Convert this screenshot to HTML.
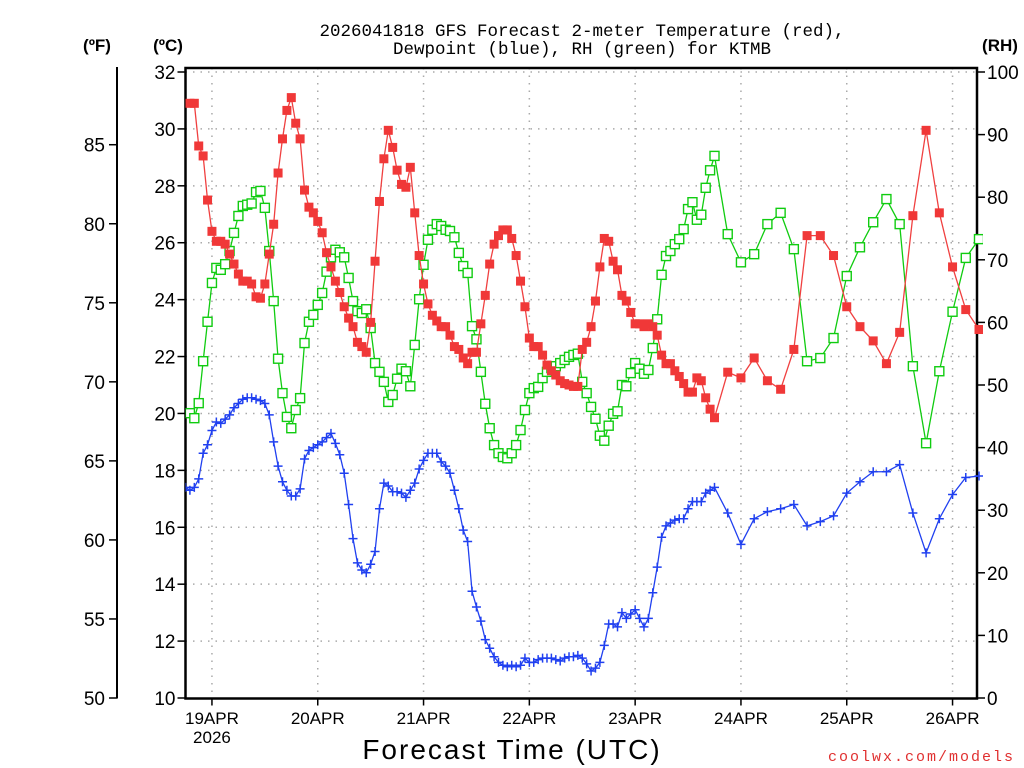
<!DOCTYPE html>
<html><head><meta charset="utf-8"><style>
html,body{margin:0;padding:0;background:#fff;}
svg{display:block;font-family:"Liberation Sans",sans-serif;}
</style></head><body>
<svg id="chart" width="1024" height="768" viewBox="0 0 1024 768" xmlns="http://www.w3.org/2000/svg">
<rect width="1024" height="768" fill="#fff"/>
<g font-family="Liberation Mono, monospace" font-size="17.5" fill="#000" text-anchor="middle">
<text x="582" y="36">2026041818 GFS Forecast 2-meter Temperature (red),</text>
<text x="582" y="54">Dewpoint (blue), RH (green) for KTMB</text>
</g>
<text x="97" y="51" font-size="17" font-weight="bold" text-anchor="middle">(ºF)</text>
<text x="168" y="51" font-size="17" font-weight="bold" text-anchor="middle">(ºC)</text>
<text x="1000" y="51" font-size="17" font-weight="bold" text-anchor="middle">(RH)</text>
<g id="grid"></g>
<g id="axes"></g>
<g id="series"></g>
<text x="512" y="759" font-size="28" letter-spacing="2" text-anchor="middle">Forecast Time (UTC)</text>
<text x="1015" y="761" font-family="Liberation Mono, monospace" font-size="15" letter-spacing="2" fill="#e03030" text-anchor="end">coolwx.com/models</text>
</svg>
<script>
// ---- data ----
const dayLabels = ["19APR","20APR","21APR","22APR","23APR","24APR","25APR","26APR"];
const celsiusTicks = [10,12,14,16,18,20,22,24,26,28,30,32];
const fahrenheitTicks = [50,55,60,65,70,75,80,85];
const rhTicks = [0,10,20,30,40,50,60,70,80,90,100];
// hours from 2026-04-18 18Z
const tempStartHour = 1;
const tempHourly = [30.9,30.9,29.4,29.05,27.5,26.4,26.05,26.05,25.95,25.6,25.25,24.9,24.65,24.65,24.55,24.1,24.05,24.55,25.6,26.65,28.45,29.65,30.65,31.1,30.2,29.65,27.85,27.25,27.05,26.75,26.35,25.65,25.15,24.65,24.25,23.75,23.35,23.05,22.5,22.35,22.15,23.2,25.35,27.45,28.95,29.95,29.35,28.55,28.05,27.95,28.65,27.05,25.55,24.55,23.85,23.45,23.25,23.05,23.05,22.75,22.35,22.25,21.95,21.75,22.15,22.15,23.15,24.15,25.25,25.95,26.25,26.45,26.45,26.15,25.55,24.65,23.75,22.65,22.35,22.35,22.05,21.7,21.5,21.35,21.15,21.05,21.0,20.95,20.95,22.25,22.5,23.05,23.95,25.15,26.15,26.05,25.35,25.05,24.15,23.95,23.55,23.15,23.15,23.05,23.15,23.05,22.75,22.05,21.75,21.75,21.5,21.3,21.05,20.75,20.75,21.25,21.15,20.55,20.15,19.85];
const temp3h = [21.45,21.25,21.95,21.15,20.85,22.25,26.25,26.25,25.55,23.75,23.05,22.55,21.75,22.85,26.95,29.95,27.05,25.15,23.65,22.95];
const rhStartHour = 1;
const rhHourly = [45.5,44.7,47.1,53.8,60.1,66.3,68.7,68.4,69.3,71.4,74.3,77.0,78.6,78.8,79.0,80.8,81.0,78.3,71.4,63.4,54.2,48.7,44.9,43.1,46.0,47.9,56.7,60.1,61.2,62.8,64.7,68.1,70.4,71.6,71.2,70.4,67.1,63.4,61.8,61.5,62.1,59.1,53.5,52.1,50.5,47.3,48.4,51.0,52.6,52.2,49.8,56.4,63.7,69.2,73.2,74.8,75.7,75.4,74.8,74.6,73.6,71.1,69.0,67.9,59.4,57.3,52.1,47.0,43.1,40.4,39.1,38.5,38.3,39.1,40.4,42.8,46.0,48.7,49.5,49.7,51.1,52.1,52.7,53.0,53.5,54.0,54.5,54.8,55.0,50.5,48.7,46.5,44.6,41.9,41.1,43.5,45.4,45.8,50.0,49.8,51.9,53.5,52.6,51.8,52.4,55.9,60.5,67.6,70.6,71.4,72.5,73.3,74.9,78.1,79.2,76.4,77.2,81.5,84.3,86.6];
const rh3h = [74.1,69.6,70.9,75.7,77.5,71.7,53.8,54.3,57.5,67.4,72.0,76.0,79.7,75.7,53.0,40.7,52.2,61.7,70.3,73.3];
const dewStartHour = 0;
const dewHourly = [17.4,17.3,17.4,17.7,18.6,18.9,19.4,19.7,19.65,19.8,19.95,20.2,20.35,20.5,20.55,20.55,20.5,20.45,20.35,19.95,19.0,18.15,17.6,17.3,17.1,17.1,17.35,18.4,18.7,18.8,18.9,19.0,19.15,19.3,18.95,18.55,17.9,16.8,15.6,14.75,14.5,14.4,14.7,15.15,16.65,17.55,17.45,17.25,17.25,17.2,17.05,17.3,17.55,18.05,18.35,18.6,18.6,18.6,18.3,18.15,17.9,17.3,16.65,15.9,15.5,13.75,13.2,12.7,12.05,11.75,11.45,11.25,11.15,11.1,11.15,11.1,11.15,11.4,11.25,11.25,11.35,11.4,11.4,11.4,11.35,11.3,11.4,11.45,11.45,11.5,11.4,11.2,10.95,11.05,11.25,11.85,12.6,12.6,12.5,13.0,12.8,12.95,13.1,12.8,12.5,12.8,13.7,14.6,15.65,16.05,16.15,16.25,16.3,16.3,16.65,16.9,16.9,16.9,17.2,17.3,17.4];
const dew3h = [16.5,15.4,16.3,16.55,16.65,16.8,16.05,16.2,16.4,17.2,17.6,17.95,17.95,18.2,16.5,15.1,16.3,17.15,17.75,17.8];
const threeHourStart = 123;

// ---- geometry ----
const L=185.5, R=977, T=68, B=698.5;
const hourPx = 105.8/24;
const xH = h => L + h*hourPx;
const yC = c => 698 - (c-10)*(626/22);
const yRH = r => 698 - r*6.26;
const yF = f => yC((f-32)*5/9);
const NS="http://www.w3.org/2000/svg";
function mk(tag, attrs, parent){const e=document.createElementNS(NS,tag);for(const k in attrs)e.setAttribute(k,attrs[k]);parent.appendChild(e);return e;}
const grid=document.getElementById('grid'), axes=document.getElementById('axes'), series=document.getElementById('series');

celsiusTicks.forEach(c=>{
  if(c===10) return;
  const g=mk('line',{x1:L,x2:R,y1:yC(c),y2:yC(c),stroke:'#aaa','stroke-width':1.5,'stroke-dasharray':'1.5 6'},grid);
  
  
});
dayLabels.forEach((d,i)=>{
  const x=xH(6+24*i);
  const g=mk('line',{x1:x,x2:x,y1:T,y2:B,stroke:'#aaa','stroke-width':1.5,'stroke-dasharray':'1.5 6'},grid);
  
  
});

const fr=mk('rect',{x:L,y:T,width:R-L,height:B-T,fill:'none',stroke:'#000','stroke-width':2.5},axes);



celsiusTicks.forEach(c=>{
  const y=yC(c);
  mk('line',{x1:L-8,x2:L,y1:y,y2:y,stroke:'#000','stroke-width':1.5},axes);
  const t=mk('text',{x:L-10,y:y+7,'font-size':19,'text-anchor':'end',fill:'#000'},axes);
  t.textContent=c;
  
  
});
const fl=mk('line',{x1:117,x2:117,y1:67,y2:698.5,stroke:'#000','stroke-width':2},axes);


fahrenheitTicks.forEach(f=>{
  const y=yF(f);
  mk('line',{x1:109,x2:117,y1:y,y2:y,stroke:'#000','stroke-width':1.5},axes);
  const t=mk('text',{x:105,y:y+7,'font-size':19,'text-anchor':'end',fill:'#000'},axes);
  t.textContent=f;
  
  
});
rhTicks.forEach(r=>{
  const y=yRH(r);
  mk('line',{x1:R,x2:R+8,y1:y,y2:y,stroke:'#000','stroke-width':1.5},axes);
  const t=mk('text',{x:R+10,y:y+7,'font-size':19,'text-anchor':'start',fill:'#000'},axes);
  t.textContent=r;
  
  
});
dayLabels.forEach((d,i)=>{
  const x=xH(6+24*i);
  mk('line',{x1:x,x2:x,y1:B,y2:B+7,stroke:'#000','stroke-width':1.5},axes);
  const t=mk('text',{x:x,y:724,'font-size':17,'text-anchor':'middle',fill:'#000'},axes);
  t.textContent=d;
  
  
});
const yr=mk('text',{x:xH(6),y:743,'font-size':17,'text-anchor':'middle',fill:'#000'},axes);
yr.textContent='2026';



function pts(start, hourly, three, yf){
  const p=[];
  hourly.forEach((v,i)=>p.push([xH(start+i), yf(v)]));
  three.forEach((v,i)=>p.push([xH(threeHourStart+3*i), yf(v)]));
  return p;
}
function clipG(){return mk('g',{'clip-path':'url(#plotclip)'},series);}
const defs=mk('defs',{},document.getElementById('chart'));
const cp=mk('clipPath',{id:'plotclip'},defs);
mk('rect',{x:L,y:T-6,width:R-L+6,height:B-T+12},cp);

const rhP=pts(rhStartHour,rhHourly,rh3h,yRH);
const gG=clipG();
const rl=mk('polyline',{points:rhP.map(p=>p.join(',')).join(' '),fill:'none',stroke:'#10cc10','stroke-width':1.3},gG);


rhP.forEach(p=>{
  const m=mk('rect',{x:p[0]-4.5,y:p[1]-4.5,width:9,height:9,fill:'#fff',stroke:'#10cc10','stroke-width':1.4},gG);
  
  
});
const tP=pts(tempStartHour,tempHourly,temp3h,yC);
const rG=clipG();
const tl=mk('polyline',{points:tP.map(p=>p.join(',')).join(' '),fill:'none',stroke:'#f04040','stroke-width':1.3},rG);


tP.forEach(p=>{
  const m=mk('rect',{x:p[0]-4.5,y:p[1]-4.5,width:9,height:9,fill:'#f03838'},rG);
  
  
});
const dP=pts(dewStartHour,dewHourly,dew3h,yC);
const bG=clipG();
const dl=mk('polyline',{points:dP.map(p=>p.join(',')).join(' '),fill:'none',stroke:'#2040f0','stroke-width':1.3},bG);


dP.forEach(p=>{
  const m=mk('path',{d:`M${p[0]-4.5},${p[1]}h9M${p[0]},${p[1]-4.5}v9`,stroke:'#2040f0','stroke-width':1.5,fill:'none'},bG);
  
  
});
</script>
</body></html>
